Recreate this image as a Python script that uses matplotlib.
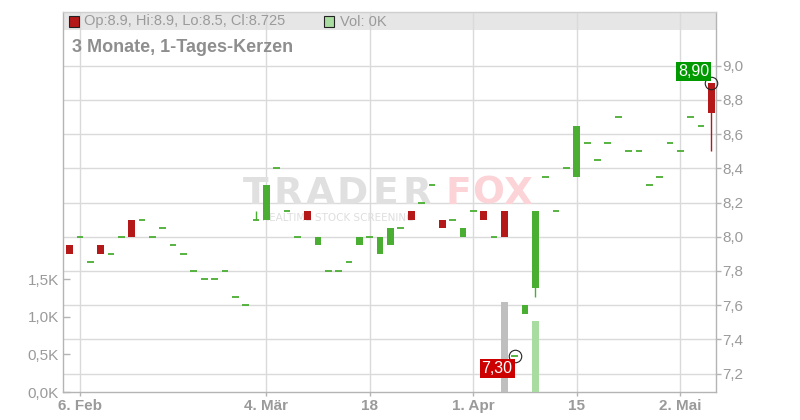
import numpy as np
import pandas as pd
import matplotlib
matplotlib.use('Agg')
import matplotlib.pyplot as plt
from matplotlib.patches import Rectangle
from matplotlib.ticker import FuncFormatter, FixedLocator

# ---------------- data ----------------
holidays = ['2025-04-18', '2025-04-21', '2025-05-01']
dates = pd.bdate_range('2025-02-05', '2025-05-07', freq='C', holidays=holidays)

opens = [7.95, 8.00, 7.85, 7.95, 7.90, 8.00, 8.10, 8.10, 8.00, 8.05,
         7.95, 7.90, 7.80, 7.75, 7.75, 7.80, 7.65, 7.60, 8.10, 8.10,
         8.40, 8.15, 8.00, 8.15, 7.95, 7.80, 7.80, 7.85, 7.95, 8.00,
         7.90, 7.95, 8.05, 8.15, 8.20, 8.30, 8.10, 8.10, 8.00, 8.15,
         8.15, 8.00, 8.15, 7.30, 7.55, 7.70, 8.35, 8.15, 8.40, 8.35,
         8.55, 8.45, 8.55, 8.70, 8.50, 8.50, 8.30, 8.35, 8.55, 8.50,
         8.70, 8.65, 8.90]
highs = [7.95, 8.00, 7.85, 7.95, 7.90, 8.00, 8.10, 8.10, 8.00, 8.05,
         7.95, 7.90, 7.80, 7.75, 7.75, 7.80, 7.65, 7.60, 8.15, 8.30,
         8.40, 8.15, 8.00, 8.15, 8.00, 7.80, 7.80, 7.85, 8.00, 8.00,
         8.00, 8.05, 8.05, 8.15, 8.20, 8.30, 8.10, 8.10, 8.05, 8.15,
         8.15, 8.00, 8.15, 7.30, 7.60, 8.15, 8.35, 8.15, 8.40, 8.65,
         8.55, 8.45, 8.55, 8.70, 8.50, 8.50, 8.30, 8.35, 8.55, 8.50,
         8.70, 8.65, 8.90]
lows = [7.90, 8.00, 7.85, 7.90, 7.90, 8.00, 8.00, 8.10, 8.00, 8.05,
        7.95, 7.90, 7.80, 7.75, 7.75, 7.80, 7.65, 7.60, 8.10, 8.10,
        8.40, 8.15, 8.00, 8.10, 7.95, 7.80, 7.80, 7.85, 7.95, 8.00,
        7.90, 7.95, 8.05, 8.10, 8.20, 8.30, 8.05, 8.10, 8.00, 8.15,
        8.10, 8.00, 8.00, 7.30, 7.55, 7.65, 8.35, 8.15, 8.40, 8.35,
        8.55, 8.45, 8.55, 8.70, 8.50, 8.50, 8.30, 8.35, 8.55, 8.50,
        8.70, 8.65, 8.50]
closes = [7.90, 8.00, 7.85, 7.90, 7.90, 8.00, 8.00, 8.10, 8.00, 8.05,
          7.95, 7.90, 7.80, 7.75, 7.75, 7.80, 7.65, 7.60, 8.10, 8.30,
          8.40, 8.15, 8.00, 8.10, 8.00, 7.80, 7.80, 7.85, 8.00, 8.00,
          8.00, 8.05, 8.05, 8.10, 8.20, 8.30, 8.05, 8.10, 8.05, 8.15,
          8.10, 8.00, 8.00, 7.30, 7.60, 8.15, 8.35, 8.15, 8.40, 8.65,
          8.55, 8.45, 8.55, 8.70, 8.50, 8.50, 8.30, 8.35, 8.55, 8.50,
          8.70, 8.65, 8.725]
volumes = [0] * 42 + [1200, 0, 0, 940] + [0] * 17

tick_dates = ['2025-02-06', '2025-03-04', '2025-03-18', '2025-04-01', '2025-04-15', '2025-05-02']
tick_labels = ['6. Feb', '4. Mär', '18', '1. Apr', '15', '2. Mai']
price_ticks = [7.2, 7.4, 7.6, 7.8, 8.0, 8.2, 8.4, 8.6, 8.8, 9.0]
vol_ticks = [0, 500, 1000, 1500]

title = '3 Monate, 1-Tages-Kerzen'

# ---------------- style ----------------
plt.rcParams['font.family'] = ['Liberation Sans', 'DejaVu Sans']
RED = '#b51818'
GREEN = '#4aae32'
VOL_UP = '#a9dca0'
VOL_DN = '#bfbfbf'
GRID = '#dadada'
SPINE = '#b4b4b4'
TXT = '#9a9a9a'

W, H = 800, 420
fig = plt.figure(figsize=(8, 4.2), dpi=100)
fig.patch.set_facecolor('white')

def fx(px):
    return px / W

def fy(py):
    return 1 - py / H

left, right, top, bottom = 63, 716, 11.7, 392
ax = fig.add_axes([fx(left), fy(bottom), (right - left) / W, (bottom - top) / H])
axv = ax.twinx()

n = len(dates)
x = np.arange(n)
width = 0.65

ax.set_xlim(-0.64, 62.45)
ax.set_ylim(7.092, 9.316)
axv.set_ylim(0, 5070)

# header band
ax.add_patch(Rectangle((0, 1 - 18.3 / (bottom - top)), 1, 18.3 / (bottom - top),
                       transform=ax.transAxes, facecolor='#e6e6e6', edgecolor='none', zorder=0.1))

# grid
ax.set_axisbelow(True)
ax.grid(True, color=GRID, lw=1)

# watermark
wm_letters = 'TRADERFOX'
wm_centers = [256, 288, 320, 352, 385, 417, 458, 488, 518]
for ch, cx in zip(wm_letters, wm_centers):
    col = '#e0e0e0' if cx < 440 else '#fcd3d7'
    ax.text(fx(cx), fy(203.5), ch, transform=fig.transFigure, ha='center', va='baseline',
            fontsize=27, fontweight='bold', family='DejaVu Sans', color=col, zorder=0.6)
ax.text(fx(338.5), fy(218), 'REALTIME STOCK SCREENING', transform=fig.transFigure,
        ha='center', va='center', fontsize=7.5, family='DejaVu Sans', color='#dedede', zorder=0.6)

# candles
for i in range(n):
    o, h, l, c = opens[i], highs[i], lows[i], closes[i]
    col = GREEN if c >= o else RED
    if h > max(o, c) or l < min(o, c):
        ax.vlines(x[i], l, h, color=col, lw=1, zorder=2)
    if abs(c - o) < 1e-9:
        ax.hlines(o, x[i] - width / 2, x[i] + width / 2, color=col, lw=1.3, zorder=3)
    else:
        ax.bar(x[i], c - o, bottom=o, width=width, color=col, edgecolor='none', zorder=3)

# volume
vcols = [VOL_UP if closes[i] >= opens[i] else VOL_DN for i in range(n)]
axv.bar(x, volumes, width=width, color=vcols, edgecolor='none', zorder=1)

# high / low markers (drawn on top axes with price coordinates)
ih = int(np.argmax(highs))
il = int(np.argmin(lows))
for idx, val in ((ih, highs[ih]), (il, lows[il])):
    axv.plot([x[idx]], [val], transform=ax.transData, marker='o', ms=9, mfc='none',
             mec='#222222', mew=0.8, zorder=5, clip_on=False)
axv.annotate(f'{highs[ih]:.2f}'.replace('.', ','), xy=(x[ih], highs[ih]), xycoords=ax.transData,
             xytext=(-1.5, 3), textcoords='offset points', ha='right', va='bottom',
             fontsize=11.5, color='white', zorder=6,
             bbox=dict(boxstyle='square,pad=0.12', fc='#009900', ec='none'))
axv.annotate(f'{lows[il]:.2f}'.replace('.', ','), xy=(x[il], lows[il]), xycoords=ax.transData,
             xytext=(-1.5, -3), textcoords='offset points', ha='right', va='top',
             fontsize=11.5, color='white', zorder=6,
             bbox=dict(boxstyle='square,pad=0.12', fc='#cc0000', ec='none'))

# axes: price on right
ax.yaxis.tick_right()
ax.yaxis.set_major_locator(FixedLocator(price_ticks))
ax.yaxis.set_major_formatter(FuncFormatter(lambda v, p: f'{v:.1f}'.replace('.', ',')))
ax.tick_params(axis='y', which='both', direction='out', length=3.5, width=1, color=SPINE,
               labelcolor=TXT, labelsize=11, pad=0.8, left=False, labelleft=False,
               right=True, labelright=True)

tick_pos = [int(np.where(dates == pd.Timestamp(d))[0][0]) for d in tick_dates]
ax.set_xticks(tick_pos)
ax.set_xticklabels(tick_labels, fontweight='bold')
ax.tick_params(axis='x', direction='out', length=3, width=1, color=SPINE,
               labelcolor=TXT, labelsize=11, pad=2)

# volume axis on left
axv.yaxis.tick_left()
axv.yaxis.set_major_locator(FixedLocator(vol_ticks))
axv.yaxis.set_major_formatter(FuncFormatter(lambda v, p: f'{v / 1000:.1f}K'.replace('.', ',')))
axv.tick_params(axis='y', direction='in', length=5, width=1, color=SPINE,
                labelcolor=TXT, labelsize=11, pad=3, right=False, labelright=False,
                left=True, labelleft=True)

for sp in ax.spines.values():
    sp.set_color(SPINE)
    sp.set_linewidth(1)
ax.spines['top'].set_color('#cfcfcf')
for sp in axv.spines.values():
    sp.set_visible(False)

# header legend
fig.patches.append(Rectangle((fx(68.5), fy(26.5)), 10 / W, 10 / H, transform=fig.transFigure,
                             facecolor=RED, edgecolor='#222222', lw=0.8, zorder=5))
fig.text(fx(84), fy(21.5),
         f'Op:{opens[-1]:g}, Hi:{highs[-1]:g}, Lo:{lows[-1]:g}, Cl:{closes[-1]:g}',
         ha='left', va='center', fontsize=10.5, color=TXT)
fig.patches.append(Rectangle((fx(324), fy(26.5)), 10 / W, 10 / H, transform=fig.transFigure,
                             facecolor=VOL_UP, edgecolor='#222222', lw=0.8, zorder=5))
fig.text(fx(340), fy(21.5), f'Vol: {volumes[-1] / 1000:.0f}K', ha='left', va='center',
         fontsize=10.5, color=TXT)

fig.text(fx(72), fy(48), title, ha='left', va='center', fontsize=13,
         fontweight='bold', color='#8e8e8e')

fig.savefig('out.png', dpi=100)
